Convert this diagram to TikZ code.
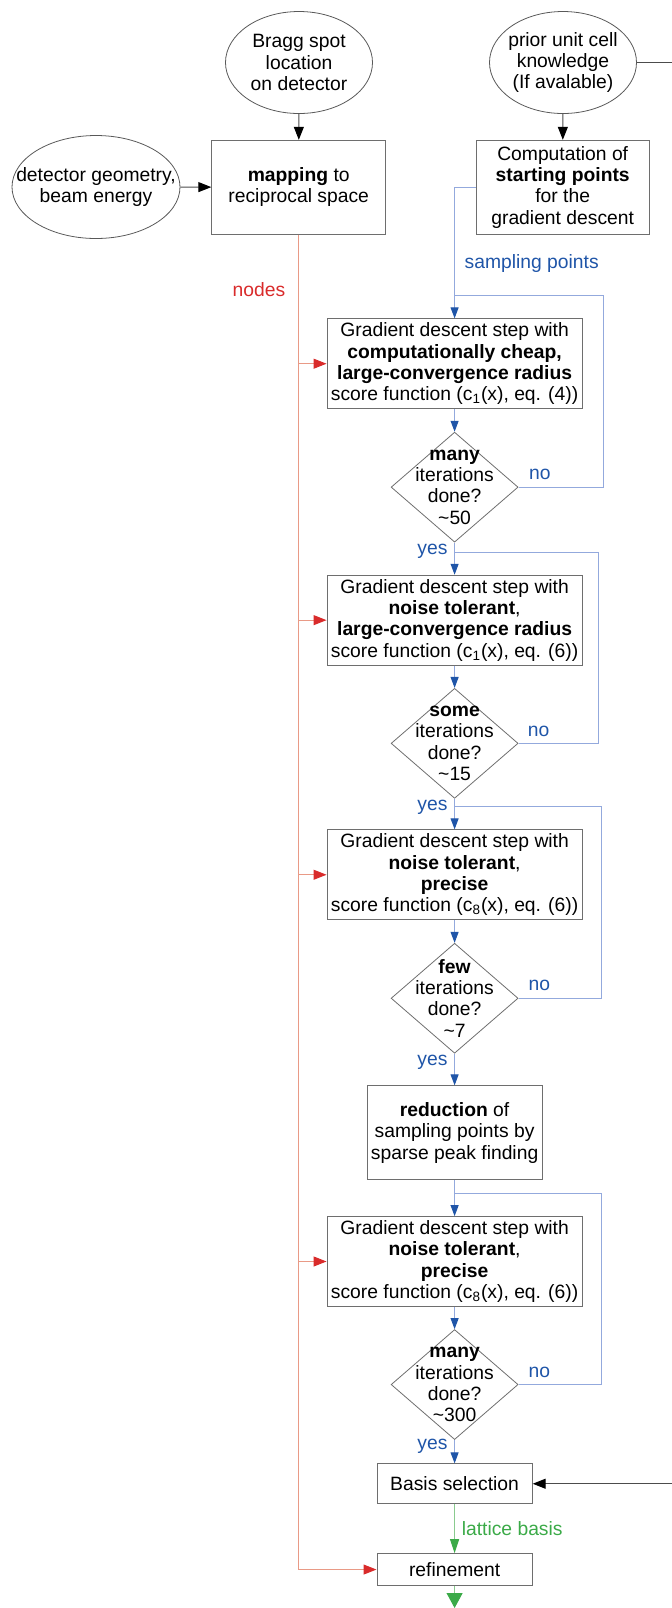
\documentclass[tikz,border=0pt]{standalone}
\usepackage{fontspec}
\setmainfont{Liberation Sans}
\usetikzlibrary{arrows.meta}
\usetikzlibrary{shapes.geometric}
\usetikzlibrary{positioning}
\definecolor{edgegray}{HTML}{6E6E6E}
\definecolor{flowblue}{HTML}{1F55A8}
\definecolor{paleblue}{HTML}{93A9DD}
\definecolor{flowred}{HTML}{D92B2B}
\definecolor{palered}{HTML}{E99A86}
\definecolor{flowgreen}{HTML}{3BAA48}
\definecolor{palegreen}{HTML}{8ACB8F}
\tikzset{
  x = 0.5pt, y = -0.5pt,
  every node/.style = {font = \fontsize{9.65}{10.65}\selectfont, align = center},
  source/.style = {ellipse, draw = black!65, inner sep = -30pt,
    minimum width = 73.5pt, minimum height = 51pt},
  stepbox/.style = {rectangle, draw = edgegray, inner sep = 2pt},
  decision/.style = {diamond, draw = edgegray, inner sep = -30pt,
    minimum width = 63.5pt, minimum height = 55pt},
  blackarrow/.style = {draw = black!70, line width = 0.5pt,
    -{Triangle[length = 6.5pt, width = 5pt, color = black]}},
  bluelink/.style = {draw = paleblue, line width = 0.5pt},
  bluearrow/.style = {bluelink, -{Triangle[length = 5.5pt, width = 4pt, color = flowblue]}},
  redlink/.style = {draw = palered, line width = 0.5pt},
  redarrow/.style = {redlink, -{Triangle[length = 6.5pt, width = 5pt, color = flowred]}},
  greenarrow/.style = {draw = palegreen, line width = 0.5pt,
    -{Triangle[length = 7pt, width = 4.5pt, color = flowgreen]}},
  greenend/.style = {greenarrow, -{Triangle[length = 7.5pt, width = 8pt, color = flowgreen]}},
  bluelbl/.style = {text = flowblue},
  redlbl/.style = {text = flowred},
  greenlbl/.style = {text = flowgreen},
  yeslbl/.style = {bluelbl, left, pos = 0.28},
  nolbl/.style = {bluelbl, above, pos = 0.25}
}

\begin{document}
\begin{tikzpicture}
  \clip (0, 0) rectangle (672, 1608);
  % inputs
  \node [source] (bragg) at (299, 62.5) {Bragg spot\\location\\on detector};
  \node [source] (prior) at (563, 62.5) {prior unit cell\\knowledge\\(If avalable)};
  \node [source, minimum width = 84pt, minimum height = 51.5pt] (geom) at (96, 187)
    {detector geometry,\\beam energy};
  \node [stepbox, minimum width = 87pt, minimum height = 47pt] (mapping) at (298.7, 187.2)
    {\textbf{mapping} to\\reciprocal space};
  \node [stepbox, minimum width = 86.5pt, minimum height = 47pt] (start) at (562.7, 187.2)
    {Computation of\\\textbf{starting points}\\for the\\gradient descent};

  % main column
  \node [stepbox, minimum width = 126.3pt, minimum height = 44.7pt] (gd1) at (454.6, 363.7)
    {Gradient descent step with\\\textbf{computationally cheap,}\\\textbf{large-convergence radius}\\score function (c\textsubscript{1}(x), eq. (4))};
  \node [decision, below = 11.35pt of gd1] (d1) {\textbf{many}\\iterations\\done?\\\textasciitilde50};
  \node [stepbox, minimum width = 121.2pt, minimum height = 45pt, below = 16.1pt of d1] (gd2)
    {Gradient descent step with\\\textbf{noise tolerant},\\\textbf{large-convergence radius}\\score function (c\textsubscript{1}(x), eq. (6))};
  \node [decision, below = 11.2pt of gd2] (d2) {\textbf{some}\\iterations\\done?\\\textasciitilde15};
  \node [stepbox, minimum width = 124.5pt, minimum height = 45pt, below = 15.3pt of d2] (gd3)
    {Gradient descent step with\\\textbf{noise tolerant},\\\textbf{precise}\\score function (c\textsubscript{8}(x), eq. (6))};
  \node [decision, below = 11.35pt of gd3] (d3) {\textbf{few}\\iterations\\done?\\\textasciitilde7};
  \node [stepbox, minimum width = 86.7pt, minimum height = 47pt, below = 15.85pt of d3] (reduce)
    {\textbf{reduction} of\\sampling points by\\sparse peak finding};
  \node [stepbox, minimum width = 124.5pt, minimum height = 44.7pt, below = 18pt of reduce] (gd4)
    {Gradient descent step with\\\textbf{noise tolerant},\\\textbf{precise}\\score function (c\textsubscript{8}(x), eq. (6))};
  \node [decision, below = 11.15pt of gd4] (d4) {\textbf{many}\\iterations\\done?\\\textasciitilde300};
  \node [stepbox, minimum width = 77.7pt, minimum height = 20pt, below = 11.7pt of d4] (basis)
    {Basis selection};
  \node [stepbox, minimum width = 77.7pt, minimum height = 16pt, below = 24.5pt of basis] (refine)
    {refinement};
  \coordinate (out) at (refine |- 0, 1608);

  % labels
  \node [redlbl] (nodestag) at (259, 290) {nodes};
  \node [bluelbl] (samptag) at (531.7, 264) {sampling points};

  % black edges
  \draw [blackarrow] (bragg) -- (mapping);
  \draw [blackarrow] (geom) -- (mapping);
  \draw [blackarrow] (prior) -- (start);
  \draw [blackarrow] (prior.east) -- ++(60, 0) |- (basis.east);

  % blue flow
  \draw [bluearrow] (start.west) -| (gd1.north);
  \foreach \g/\d in {gd1/d1, gd2/d2, gd3/d3, gd4/d4}
    \draw [bluearrow] (\g) -- (\d);
  \draw [bluearrow] (d1) -- node [yeslbl] {yes} (gd2);
  \draw [bluearrow] (d2) -- node [yeslbl] {yes} (gd3);
  \draw [bluearrow] (d3) -- node [yeslbl] {yes} (reduce);
  \draw [bluearrow] (d4) -- node [yeslbl] {yes} (basis);
  \draw [bluearrow] (reduce) -- (gd4);
  \foreach \d/\g/\dx in {d1/gd1/85, d2/gd2/80, d3/gd3/83.4, d4/gd4/83.4} {
    \coordinate (j\d) at ([yshift = 11.2pt] \g.north);
    \draw [bluelink] (\d.east) -- node [nolbl] {no} ++(\dx, 0) |- (j\d);
  }

  % red nodes line
  \draw [redarrow] (mapping.south) |- (refine.west);
  \foreach \g in {gd1, gd2, gd3, gd4}
    \draw [redarrow] (mapping.south |- \g.west) -- (\g.west);

  % green output
  \draw [greenarrow] (basis) -- node [right, greenlbl] (basistag) {lattice basis} (refine);
  \draw [greenend] (refine) -- (out);
\end{tikzpicture}
\end{document}
